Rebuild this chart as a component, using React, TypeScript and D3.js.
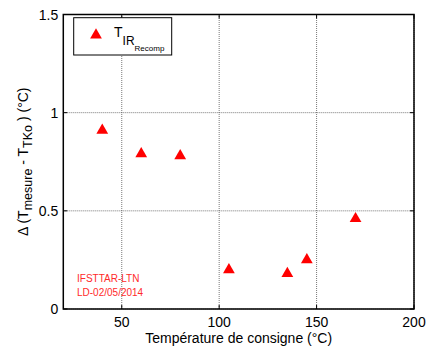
import React from "react";
import * as d3 from "d3";

// temperature de consigne (°C) and measured delta (°C)
const consigne = [40, 60, 80, 105, 135, 145, 170];
const delta = [0.91, 0.79, 0.78, 0.2, 0.18, 0.25, 0.46];
const xTicks = [50, 100, 150, 200];
const yTicks = [0, 0.5, 1, 1.5];

const W = 427,
  H = 349;
const margin = { top: 14.5, right: 13, bottom: 40, left: 63.3 };

export default function App() {
  const x = d3.scaleLinear().domain([20, 200]).range([margin.left, W - margin.right]);
  const y = d3.scaleLinear().domain([0, 1.5]).range([H - margin.bottom, margin.top]);
  const tri = d3.symbol().type(d3.symbolTriangle).size(60);
  const font = "Liberation Sans, Arial, sans-serif";
  const [x0, x1] = x.range();
  const [y0, y1] = y.range();

  return (
    <svg
      width={W}
      height={H}
      style={{ position: "absolute", left: 0, top: 0, background: "#fff" }}
      fontFamily={font}
    >
      {/* grid */}
      {xTicks.map((t) => (
        <line key={"gx" + t} x1={x(t)} x2={x(t)} y1={y0} y2={y1} stroke="#555" strokeWidth={0.8} strokeDasharray="1,1" />
      ))}
      {yTicks.map((t) => (
        <line key={"gy" + t} x1={x0} x2={x1} y1={y(t)} y2={y(t)} stroke="#555" strokeWidth={0.8} strokeDasharray="1,1" />
      ))}
      {/* inner ticks */}
      {xTicks.map((t) => (
        <g key={"tx" + t}>
          <line x1={x(t)} x2={x(t)} y1={y0} y2={y0 - 4} stroke="#000" />
          <line x1={x(t)} x2={x(t)} y1={y1} y2={y1 + 4} stroke="#000" />
          <text x={x(t)} y={y0 + 18} textAnchor="middle" fontSize={14}>
            {t}
          </text>
        </g>
      ))}
      {yTicks.map((t) => (
        <g key={"ty" + t}>
          <line x1={x0} x2={x0 + 4} y1={y(t)} y2={y(t)} stroke="#000" />
          <line x1={x1} x2={x1 - 4} y1={y(t)} y2={y(t)} stroke="#000" />
          <text x={x0 - 5} y={y(t) + 5} textAnchor="end" fontSize={14}>
            {t}
          </text>
        </g>
      ))}
      <rect x={x0} y={y1} width={x1 - x0} height={y0 - y1} fill="none" stroke="#000" strokeWidth={1.5} />

      {/* points */}
      {consigne.map((c, i) => (
        <path key={i} d={tri() as string} transform={`translate(${x(c)},${y(delta[i])})`} fill="#ff0000" />
      ))}

      {/* legend */}
      <rect x={73.7} y={17.7} width={98} height={37.3} fill="#fff" stroke="#000" strokeWidth={1} />
      <path d={tri() as string} transform="translate(96,35)" fill="#ff0000" />
      <text x={114} y={37} fontSize={14}>
        T
        <tspan dy={8} fontSize={12}>IR</tspan>
        <tspan dy={6} fontSize={8}>Recomp</tspan>
      </text>

      {/* watermark */}
      <text x={77} y={282} fontSize={10} fill="#ff2a2a">IFSTTAR-LTN</text>
      <text x={77} y={296} fontSize={10} fill="#ff2a2a">LD-02/05/2014</text>

      {/* axis labels */}
      <text x={(x0 + x1) / 2} y={343} textAnchor="middle" fontSize={14}>
        Température de consigne (°C)
      </text>
      <text transform={`translate(28,${(y0 + y1) / 2}) rotate(-90)`} textAnchor="middle" fontSize={14}>
        Δ (T
        <tspan dy={4} fontSize={12.5}>mesure</tspan>
        <tspan dy={-4}> - T</tspan>
        <tspan dy={4} fontSize={12.5}>TKo</tspan>
        <tspan dy={-4}> ) (°C)</tspan>
      </text>
    </svg>
  );
}
